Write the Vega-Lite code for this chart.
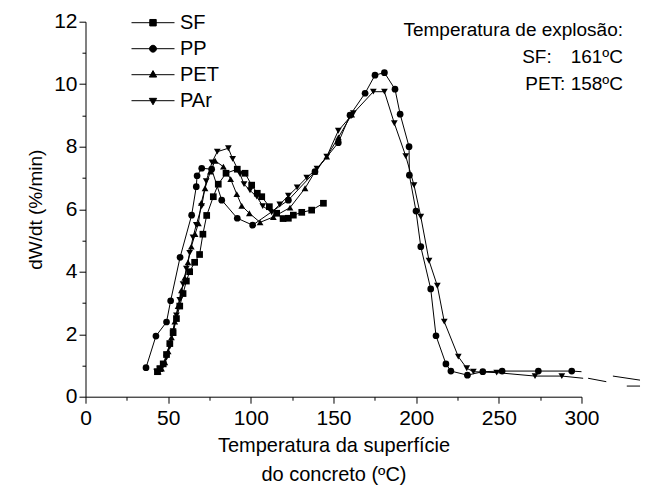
{
  "$schema": "https://vega.github.io/schema/vega-lite/v6.json",
  "width": 496,
  "height": 375,
  "autosize": {"type": "none"},
  "padding": {"left": 85.5, "top": 21.7, "right": 63.5, "bottom": 100},
  "background": "white",
  "config": {
    "view": {"stroke": null},
    "font": "Liberation Sans",
    "axis": {
      "domainColor": "black",
      "domainWidth": 1,
      "tickColor": "black",
      "tickWidth": 1,
      "labelColor": "black",
      "labelFont": "Liberation Sans",
      "labelFontSize": 21,
      "titleColor": "black",
      "titleFont": "Liberation Sans",
      "titleFontWeight": "normal",
      "grid": false
    }
  },
  "title": {
    "text": ["Temperatura de explosão:", "SF:\u2002\u2002161ºC", "PET: 158ºC"],
    "frame": "group",
    "anchor": "end",
    "align": "right",
    "baseline": "top",
    "orient": "top",
    "offset": 0,
    "dy": 83,
    "dx": 41.5,
    "font": "Liberation Sans",
    "fontSize": 19,
    "fontWeight": "normal",
    "color": "black",
    "lineHeight": 27
  },
  "datasets": {
    "curves": [
      {"series": "PP", "t": 36.6, "v": 0.93},
      {"series": "PP", "t": 42.6, "v": 1.94},
      {"series": "PP", "t": 49.0, "v": 2.39},
      {"series": "PP", "t": 51.5, "v": 3.07},
      {"series": "PP", "t": 57.2, "v": 4.46},
      {"series": "PP", "t": 64.2, "v": 5.81},
      {"series": "PP", "t": 67.0, "v": 6.72},
      {"series": "PP", "t": 67.5, "v": 7.07},
      {"series": "PP", "t": 70.3, "v": 7.31},
      {"series": "PP", "t": 76.3, "v": 7.28},
      {"series": "PP", "t": 82.4, "v": 6.29},
      {"series": "PP", "t": 91.8, "v": 5.71},
      {"series": "PP", "t": 101.1, "v": 5.49},
      {"series": "PP", "t": 122.7, "v": 6.29},
      {"series": "PP", "t": 138.8, "v": 7.2},
      {"series": "PP", "t": 152.9, "v": 8.13},
      {"series": "PP", "t": 160.0, "v": 9.01},
      {"series": "PP", "t": 169.1, "v": 9.71},
      {"series": "PP", "t": 175.1, "v": 10.29},
      {"series": "PP", "t": 180.8, "v": 10.37},
      {"series": "PP", "t": 187.2, "v": 9.84},
      {"series": "PP", "t": 190.3, "v": 9.04},
      {"series": "PP", "t": 195.7, "v": 8.0},
      {"series": "PP", "t": 195.9, "v": 7.09},
      {"series": "PP", "t": 199.9, "v": 5.94},
      {"series": "PP", "t": 202.8, "v": 4.8},
      {"series": "PP", "t": 208.8, "v": 3.45},
      {"series": "PP", "t": 212.0, "v": 1.95},
      {"series": "PP", "t": 218.0, "v": 1.05},
      {"series": "PP", "t": 221.0, "v": 0.82},
      {"series": "PP", "t": 231.0, "v": 0.69},
      {"series": "PP", "t": 240.3, "v": 0.8},
      {"series": "PP", "t": 252.0, "v": 0.82},
      {"series": "PP", "t": 273.9, "v": 0.82},
      {"series": "PP", "t": 294.1, "v": 0.82},

      {"series": "SF", "t": 43.5, "v": 0.8},
      {"series": "SF", "t": 45.0, "v": 0.9},
      {"series": "SF", "t": 47.0, "v": 1.05},
      {"series": "SF", "t": 49.0, "v": 1.35},
      {"series": "SF", "t": 51.0, "v": 1.7},
      {"series": "SF", "t": 53.0, "v": 2.05},
      {"series": "SF", "t": 55.0, "v": 2.5},
      {"series": "SF", "t": 57.0, "v": 2.9},
      {"series": "SF", "t": 59.0, "v": 3.3},
      {"series": "SF", "t": 61.0, "v": 3.7},
      {"series": "SF", "t": 63.0, "v": 4.0},
      {"series": "SF", "t": 66.0, "v": 4.3},
      {"series": "SF", "t": 69.0, "v": 4.55},
      {"series": "SF", "t": 71.0, "v": 5.2},
      {"series": "SF", "t": 73.3, "v": 5.8},
      {"series": "SF", "t": 77.3, "v": 6.4},
      {"series": "SF", "t": 80.3, "v": 6.8},
      {"series": "SF", "t": 85.0, "v": 7.15},
      {"series": "SF", "t": 91.8, "v": 7.28},
      {"series": "SF", "t": 96.5, "v": 7.15},
      {"series": "SF", "t": 100.5, "v": 6.77},
      {"series": "SF", "t": 103.9, "v": 6.51},
      {"series": "SF", "t": 106.6, "v": 6.4},
      {"series": "SF", "t": 111.2, "v": 6.08},
      {"series": "SF", "t": 115.6, "v": 5.87},
      {"series": "SF", "t": 119.5, "v": 5.7},
      {"series": "SF", "t": 122.7, "v": 5.71},
      {"series": "SF", "t": 125.7, "v": 5.81},
      {"series": "SF", "t": 130.8, "v": 5.9},
      {"series": "SF", "t": 136.8, "v": 5.97},
      {"series": "SF", "t": 143.9, "v": 6.19},

      {"series": "PET", "t": 44.0, "v": 0.8},
      {"series": "PET", "t": 46.0, "v": 0.9},
      {"series": "PET", "t": 48.0, "v": 1.1},
      {"series": "PET", "t": 50.0, "v": 1.45},
      {"series": "PET", "t": 52.0, "v": 1.9},
      {"series": "PET", "t": 54.0, "v": 2.4},
      {"series": "PET", "t": 56.0, "v": 2.9},
      {"series": "PET", "t": 58.0, "v": 3.4},
      {"series": "PET", "t": 60.0, "v": 3.8},
      {"series": "PET", "t": 62.0, "v": 4.3},
      {"series": "PET", "t": 64.0, "v": 4.8},
      {"series": "PET", "t": 66.3, "v": 5.2},
      {"series": "PET", "t": 68.3, "v": 5.55},
      {"series": "PET", "t": 70.0, "v": 6.2},
      {"series": "PET", "t": 72.3, "v": 6.67},
      {"series": "PET", "t": 75.5, "v": 7.2},
      {"series": "PET", "t": 78.4, "v": 7.55},
      {"series": "PET", "t": 83.4, "v": 7.36},
      {"series": "PET", "t": 87.8, "v": 6.96},
      {"series": "PET", "t": 91.5, "v": 6.48},
      {"series": "PET", "t": 94.5, "v": 6.11},
      {"series": "PET", "t": 99.1, "v": 5.87},
      {"series": "PET", "t": 105.6, "v": 5.58},
      {"series": "PET", "t": 113.6, "v": 5.75},
      {"series": "PET", "t": 123.7, "v": 6.05},
      {"series": "PET", "t": 132.8, "v": 6.67},
      {"series": "PET", "t": 138.8, "v": 7.2},
      {"series": "PET", "t": 145.9, "v": 7.68},
      {"series": "PET", "t": 153.0, "v": 8.3},
      {"series": "PET", "t": 161.0, "v": 9.03},

      {"series": "PAr", "t": 43.0, "v": 0.8},
      {"series": "PAr", "t": 45.0, "v": 0.88},
      {"series": "PAr", "t": 47.0, "v": 1.0},
      {"series": "PAr", "t": 49.0, "v": 1.25},
      {"series": "PAr", "t": 51.0, "v": 1.6},
      {"series": "PAr", "t": 53.0, "v": 2.1},
      {"series": "PAr", "t": 55.0, "v": 2.6},
      {"series": "PAr", "t": 57.0, "v": 3.1},
      {"series": "PAr", "t": 59.0, "v": 3.6},
      {"series": "PAr", "t": 61.0, "v": 4.1},
      {"series": "PAr", "t": 63.0, "v": 4.6},
      {"series": "PAr", "t": 65.0, "v": 5.1},
      {"series": "PAr", "t": 67.0, "v": 5.5},
      {"series": "PAr", "t": 70.3, "v": 6.1},
      {"series": "PAr", "t": 73.0, "v": 6.9},
      {"series": "PAr", "t": 76.5, "v": 7.5},
      {"series": "PAr", "t": 79.7, "v": 7.84},
      {"series": "PAr", "t": 86.4, "v": 7.95},
      {"series": "PAr", "t": 89.0, "v": 7.61},
      {"series": "PAr", "t": 93.5, "v": 7.12},
      {"series": "PAr", "t": 95.9, "v": 6.8},
      {"series": "PAr", "t": 99.5, "v": 6.6},
      {"series": "PAr", "t": 103.6, "v": 6.4},
      {"series": "PAr", "t": 107.2, "v": 6.1},
      {"series": "PAr", "t": 112.6, "v": 5.9},
      {"series": "PAr", "t": 117.5, "v": 6.15},
      {"series": "PAr", "t": 122.7, "v": 6.43},
      {"series": "PAr", "t": 128.0, "v": 6.7},
      {"series": "PAr", "t": 133.8, "v": 7.01},
      {"series": "PAr", "t": 140.0, "v": 7.3},
      {"series": "PAr", "t": 145.9, "v": 7.68},
      {"series": "PAr", "t": 152.9, "v": 8.51},
      {"series": "PAr", "t": 162.0, "v": 9.07},
      {"series": "PAr", "t": 174.1, "v": 9.76},
      {"series": "PAr", "t": 180.8, "v": 9.76},
      {"series": "PAr", "t": 186.8, "v": 8.75},
      {"series": "PAr", "t": 193.7, "v": 7.7},
      {"series": "PAr", "t": 198.7, "v": 6.77},
      {"series": "PAr", "t": 202.8, "v": 5.76},
      {"series": "PAr", "t": 207.8, "v": 4.35},
      {"series": "PAr", "t": 212.8, "v": 3.55},
      {"series": "PAr", "t": 217.0, "v": 2.4},
      {"series": "PAr", "t": 225.5, "v": 1.28},
      {"series": "PAr", "t": 230.6, "v": 0.91},
      {"series": "PAr", "t": 234.6, "v": 0.8},
      {"series": "PAr", "t": 248.7, "v": 0.77},
      {"series": "PAr", "t": 271.9, "v": 0.66},
      {"series": "PAr", "t": 288.1, "v": 0.66}
    ],
    "tails": [
      {"seg": "pp", "t": 294.1, "v": 0.82},
      {"seg": "pp", "t": 300.0, "v": 0.8},
      {"seg": "par", "t": 288.1, "v": 0.66},
      {"seg": "par", "t": 301.0, "v": 0.59},
      {"seg": "b1", "t": 304.0, "v": 0.59},
      {"seg": "b1", "t": 315.0, "v": 0.48},
      {"seg": "b2", "t": 319.0, "v": 0.66},
      {"seg": "b2", "t": 335.4, "v": 0.53},
      {"seg": "b3", "t": 327.4, "v": 0.34},
      {"seg": "b3", "t": 335.4, "v": 0.34}
    ]
  },
  "encoding": {
    "x": {
      "field": "t",
      "type": "quantitative",
      "scale": {"domain": [0, 300], "nice": false, "zero": false},
      "axis": {
        "values": [0, 25, 50, 75, 100, 125, 150, 175, 200, 225, 250, 275, 300],
        "labelExpr": "datum.value % 50 === 0 ? datum.label : ''",
        "tickSize": {"condition": {"test": "datum.value % 50 === 0", "value": 6.5}, "value": 3.5},
        "labelPadding": 4,
        "labelFlush": false,
        "labelOverlap": false,
        "title": ["Temperatura da superfície", "do concreto (ºC)"],
        "titleFontSize": 20,
        "titleLineHeight": 29,
        "titlePadding": 7
      }
    },
    "y": {
      "field": "v",
      "type": "quantitative",
      "scale": {"domain": [0, 12], "nice": false, "zero": false},
      "axis": {
        "values": [0, 1, 2, 3, 4, 5, 6, 7, 8, 9, 10, 11, 12],
        "labelExpr": "datum.value % 2 === 0 ? datum.label : ''",
        "tickSize": {"condition": {"test": "datum.value % 2 === 0", "value": 6.5}, "value": 3.5},
        "labelPadding": 2,
        "labelFlush": false,
        "labelOverlap": false,
        "title": "dW/dt (%/min)",
        "titleFontSize": 19,
        "titlePadding": 8
      }
    }
  },
  "layer": [
    {
      "data": {"name": "tails"},
      "mark": {"type": "line", "color": "black", "strokeWidth": 1},
      "encoding": {"detail": {"field": "seg", "type": "nominal"}}
    },
    {
      "data": {"name": "curves"},
      "mark": {"type": "line", "color": "black", "strokeWidth": 1},
      "encoding": {"detail": {"field": "series", "type": "nominal"}}
    },
    {
      "data": {"name": "curves"},
      "mark": {"type": "point", "filled": true, "color": "black", "opacity": 1, "size": 45},
      "encoding": {
        "shape": {
          "field": "series",
          "type": "nominal",
          "scale": {"domain": ["SF", "PP", "PET", "PAr"], "range": ["square", "circle", "triangle-up", "triangle-down"]},
          "legend": null
        }
      }
    },
    {
      "data": {"name": "curves"},
      "mark": {"type": "point", "filled": true, "color": "black", "opacity": 0, "size": 1849},
      "encoding": {
        "shape": {
          "field": "series",
          "type": "nominal",
          "scale": {
            "domain": ["SF", "PP", "PET", "PAr"],
            "range": [
              "M-1,0H1M-0.15,-0.15H0.15V0.15H-0.15Z",
              "M-1,0H1M-0.16,0A0.16,0.16,0,1,0,0.16,0A0.16,0.16,0,1,0,-0.16,0Z",
              "M-1,0H1M0,-0.19L0.17,0.11L-0.17,0.11Z",
              "M-1,0H1M0,0.19L0.17,-0.11L-0.17,-0.11Z"
            ]
          },
          "legend": {
            "orient": "none",
            "legendX": 45.5,
            "legendY": -9,
            "title": null,
            "padding": 0,
            "rowPadding": 6,
            "clipHeight": 20,
            "labelFont": "Liberation Sans",
            "labelFontSize": 20,
            "labelColor": "black",
            "labelOffset": 5,
            "symbolOffset": 0,
            "symbolSize": 1849,
            "symbolStrokeWidth": 1,
            "symbolFillColor": "black",
            "symbolStrokeColor": "black",
            "symbolOpacity": 1,
            "encoding": {
              "symbols": {
                "fill": {"value": "black"},
                "stroke": {"value": "black"},
                "strokeWidth": {"value": 1},
                "opacity": {"value": 1}
              }
            }
          }
        }
      }
    }
  ],
  "resolve": {"scale": {"shape": "independent"}}
}
